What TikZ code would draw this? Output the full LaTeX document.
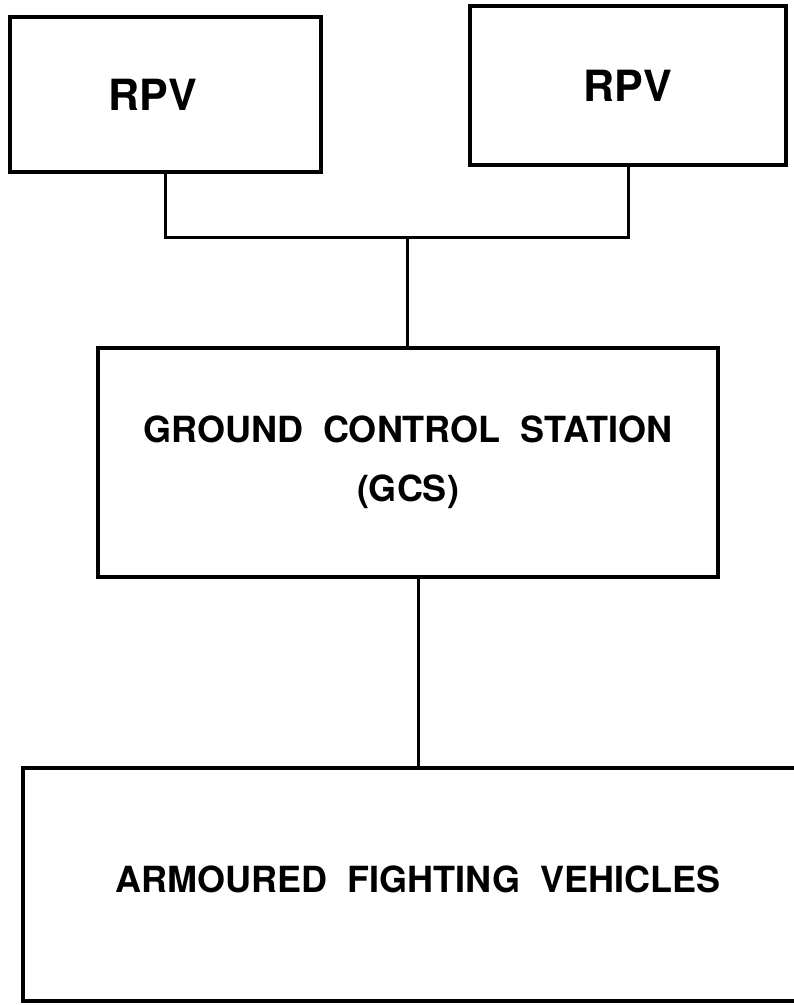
\documentclass[tikz,border=0pt]{standalone}
\usepackage{fontspec}
\setmainfont{TeX Gyre Heros}[WordSpace=2]
\usetikzlibrary{positioning}
\tikzset{
  unitbox/.style={draw,line width=3.5pt,inner sep=0pt,align=center,
    font=\bfseries\fontsize{36}{59}\selectfont},
  bigtext/.style={font=\bfseries\fontsize{43}{50}\selectfont},
  link/.style={line width=3pt},
}

\begin{document}
\begin{tikzpicture}[x=1pt,y=-1pt]
  \useasboundingbox (0,0) rectangle (794,1005);
  % the two RPVs
  \node[unitbox,bigtext,minimum width=311,minimum height=155] (rpvl) at (165.5,94.5) {RPV\hspace*{26pt}};
  \node[unitbox,bigtext,minimum width=316,minimum height=159] (rpvr) at (628,85.5) {RPV};
  % ground station and vehicles
  \node[unitbox,minimum width=620,minimum height=229] (gcs) at (408,462.5) {GROUND CONTROL STATION\\(GCS)};
  \node[unitbox,minimum width=790,minimum height=233,text depth=10pt] (afv) at (418,884.5) {ARMOURED FIGHTING VEHICLES};
  \coordinate (jn) at (407,237);
  \draw[link] (rpvl.south) |- (jn) -| (rpvr.south);
  \draw[link] (jn) -- (jn |- gcs.north);
  \draw[link] (gcs.south -| afv.north) -- (afv.north);
\end{tikzpicture}
\end{document}
